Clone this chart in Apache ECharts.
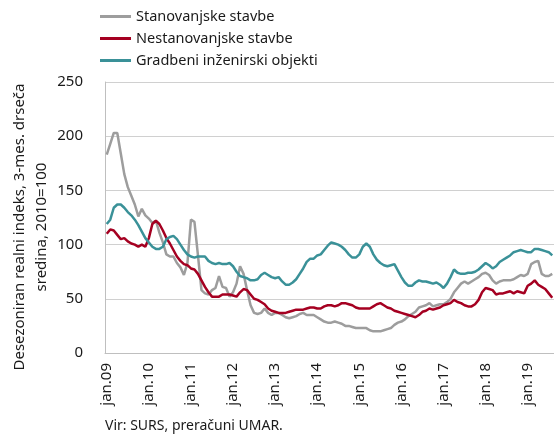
<!DOCTYPE html>
<html>
<head>
<meta charset="utf-8">
<script src="https://cdn.jsdelivr.net/npm/echarts@6/dist/echarts.min.js"></script>
<style>
  html, body { margin: 0; padding: 0; background: #fff; }
  #chart { width: 554px; height: 439px; }
</style>
</head>
<body>
<div id="chart"></div>
<script>
// months jan.09 .. aug.19
const years = ["09", "10", "11", "12", "13", "14", "15", "16", "17", "18", "19"];
const monthNames = ["jan", "feb", "mar", "apr", "maj", "jun", "jul", "avg", "sep", "okt", "nov", "dec"];
const lastYearMonths = 8;

const seriesNames = ["Stanovanjske stavbe", "Nestanovanjske stavbe", "Gradbeni inženirski objekti"];

const stanovanjske = [
  183, 193, 203, 203, 184, 165, 153, 145, 137, 126, 133, 127,
  124, 120, 122, 111, 102, 91, 89, 89, 83, 79, 72, 83,
  123, 121, 90, 58, 55, 54, 58, 60, 71, 61, 60, 52,
  56, 64, 80, 73, 58, 44, 37, 36, 37, 41, 37, 35,
  37, 37, 35, 33, 32, 33, 34, 36, 37, 35, 35, 35,
  33, 31, 29, 28, 28, 29, 28, 27, 25, 25, 24, 23,
  23, 23, 23, 21, 20, 20, 20, 21, 22, 23, 26, 28,
  29, 31, 34, 36, 38, 42, 43, 44, 46, 43, 44, 45,
  45, 47, 50, 56, 60, 64, 66, 64, 66, 68, 70, 73,
  74, 72, 67, 64, 66, 67, 67, 67, 68, 70, 72, 71,
  73, 82, 84, 85, 73, 71, 71, 73
];

const nestanovanjske = [
  110, 114, 113, 109, 105, 106, 103, 101, 100, 98, 100, 98,
  106, 119, 122, 119, 113, 106, 101, 95, 89, 85, 82, 81,
  78, 77, 73, 67, 61, 56, 52, 52, 52, 54, 54, 54,
  53, 52, 56, 59, 58, 54, 50, 49, 47, 45, 41, 39,
  38, 37, 37, 37, 38, 39, 40, 40, 40, 41, 42, 42,
  41, 41, 43, 44, 44, 43, 44, 46, 46, 45, 44, 42,
  41, 41, 41, 41, 43, 45, 46, 44, 42, 41, 39, 38,
  37, 36, 35, 34, 33, 35, 38, 39, 41, 40, 41, 42,
  44, 45, 46, 49, 47, 46, 44, 43, 43, 45, 49, 56,
  60, 59, 58, 54, 55, 55, 56, 57, 55, 57, 56, 55,
  62, 64, 67, 63, 61, 59, 55, 51
];

const gradbeni = [
  119, 123, 134, 137, 137, 134, 130, 127, 123, 118, 112, 106,
  102, 98, 96, 96, 98, 105, 107, 108, 105, 100, 95, 91,
  89, 88, 89, 89, 89, 85, 83, 82, 83, 82, 82, 83,
  80, 75, 71, 70, 69, 67, 67, 68, 72, 74, 72, 70,
  69, 70, 66, 63, 63, 65, 68, 73, 78, 84, 87, 87,
  90, 91, 95, 99, 102, 101, 100, 98, 95, 91, 88, 88,
  91, 98, 101, 98, 91, 86, 83, 81, 80, 81, 82, 76,
  70, 65, 62, 62, 65, 67, 66, 66, 65, 64, 65, 63,
  60, 64, 70, 77, 74, 73, 73, 74, 74, 75, 77, 80,
  83, 81, 78, 80, 84, 86, 88, 90, 93, 94, 95, 94,
  93, 93, 96, 96, 95, 94, 93, 90
];

const colors = ["#9d9d9d", "#a50021", "#3a9198"];

const categories = [];
years.forEach((y, i) => {
  const n = i === years.length - 1 ? lastYearMonths : 12;
  for (let m = 0; m < n; m++) categories.push(monthNames[m] + "." + y);
});

const font = "'Noto Sans', sans-serif";
const chart = echarts.init(document.getElementById("chart"));

const mkLine = (name, data, color) => ({
  name: name,
  type: "line",
  data: data,
  symbol: "none",
  smooth: false,
  lineStyle: { color: color, width: 2.5 },
  itemStyle: { color: color },
});

const option = {
  animation: false,
  textStyle: { fontFamily: font },
  color: colors,
  legend: {
    orient: "vertical",
    left: 100,
    top: 8,
    padding: 0,
    itemWidth: 31,
    itemHeight: 3,
    itemGap: 5,
    icon: "rect",
    textStyle: { fontSize: 14.5, color: "#1a1a1a", lineHeight: 17, fontFamily: font },
    data: seriesNames,
  },
  grid: { left: 105, right: 0, top: 82, bottom: 86 },
  xAxis: {
    type: "category",
    data: categories,
    boundaryGap: true,
    axisLine: { lineStyle: { color: "#bfbfbf", width: 1 } },
    axisTick: { show: false },
    axisLabel: {
      interval: 11,
      rotate: 90,
      margin: 10,
      fontSize: 15,
      color: "#1a1a1a",
      fontFamily: font,
    },
    splitLine: { show: false },
  },
  yAxis: {
    type: "value",
    min: 0,
    max: 250,
    interval: 50,
    axisLine: { show: true, lineStyle: { color: "#bfbfbf", width: 1 } },
    axisTick: { show: false },
    axisLabel: { margin: 22, fontSize: 15, color: "#1a1a1a", fontFamily: font },
    splitLine: { lineStyle: { color: "#d0d0d0", width: 1 } },
  },
  graphic: [
    {
      type: "text",
      x: 31,
      y: 227,
      rotation: Math.PI / 2,
      style: {
        text: "Desezoniran realni indeks, 3-mes. drseča\nsredina, 2010=100",
        fontSize: 15,
        lineHeight: 22,
        fontFamily: font,
        fill: "#1a1a1a",
        align: "center",
        verticalAlign: "middle",
      },
    },
    {
      type: "text",
      left: 105,
      top: 419,
      style: {
        text: "Vir: SURS, preračuni UMAR.",
        fontSize: 14,
        fontFamily: font,
        fill: "#1a1a1a",
      },
    },
  ],
  series: [
    mkLine(seriesNames[0], stanovanjske, colors[0]),
    mkLine(seriesNames[1], nestanovanjske, colors[1]),
    mkLine(seriesNames[2], gradbeni, colors[2]),
  ],
};

chart.setOption(option);
</script>
</body>
</html>
